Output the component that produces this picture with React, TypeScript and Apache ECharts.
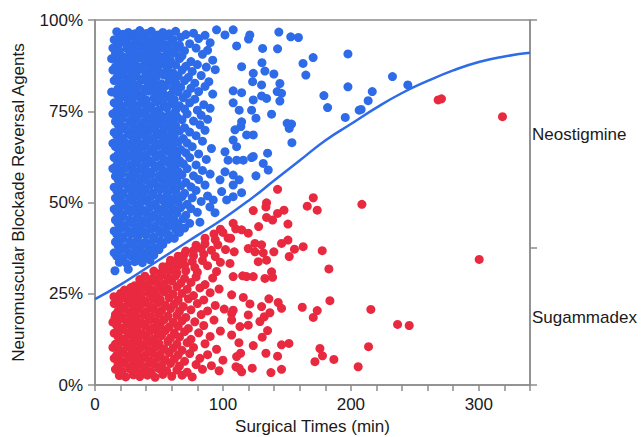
import React, { useEffect, useRef } from "react";
import * as echarts from "echarts";

const FONT = "'Liberation Sans', Arial, Helvetica, sans-serif";
const BLUE = "#2d6be9";
const RED = "#e8293f";
const AXIS = "#8c8c8c";

const xTitle = "Surgical Times (min)";
const yTitle = "Neuromuscular Blockade Reversal Agents";
const groupNames = ["Sugammadex", "Neostigmine"];
const groupLabelValues = [18.5, 68.5];
const groupBoundaryTicks = [0, 37.5, 100];

// fitted logistic curve
const curveX = [0, 20, 40, 60, 80, 100, 120, 140, 160, 180, 200, 220, 240, 260, 280, 300, 320, 340];
const curveY = [23.5, 27.5, 32, 36.5, 41, 45.5, 50.5, 56, 61.5, 67, 71.5, 76, 80, 83.3, 86.2, 88.5, 90, 91];

// Neostigmine points (dense block)
const neoDense = [
  [17,96.8],[22,96.1],[26,96.6],[31,96.2],[35,97.1],[40,96.3],[44,96.9],[49,95.9],[53,96.6],[58,96.2],[63,96.9],[71,96.0],[77,96.4],[86,95.8],
  [15,94.6],[20,95.3],[24,94.8],[29,95.5],[33,94.9],[38,95.4],[42,94.7],[47,95.2],[51,94.8],[56,95.6],[61,94.6],[67,95.3],[81,94.9],
  [18,93.1],[23,93.8],[27,93.3],[32,93.9],[36,93.2],[41,93.7],[45,93.0],[50,93.6],[55,93.3],[60,93.9],[66,93.1],[74,93.5],[90,93.8],
  [14,92.3],[19,91.6],[25,92.2],[30,91.8],[34,92.5],[39,91.7],[43,92.1],[48,91.5],[53,92.4],[58,91.9],[64,92.2],[70,91.6],[79,92.3],[88,91.7],
  [16,90.8],[21,90.1],[27,90.6],[32,90.2],[37,90.9],[41,90.3],[46,90.7],[51,90.0],[56,90.5],[62,90.9],[68,90.2],[84,90.6],
  [13,89.4],[18,88.6],[23,89.2],[29,88.8],[34,89.5],[39,88.7],[44,89.1],[49,88.5],[54,89.3],[59,88.9],[66,89.4],[75,88.6],[92,89.0],
  [16,87.2],[20,87.9],[26,87.3],[31,87.8],[36,87.1],[42,87.6],[47,87.4],[52,87.9],[57,87.2],[63,87.7],[71,87.3],[80,87.8],[87,87.1],
  [14,86.3],[19,85.7],[24,86.4],[29,85.9],[34,86.2],[40,85.6],[45,86.5],[50,85.8],[56,86.1],[61,85.5],[68,86.3],[76,85.9],[94,86.4],
  [17,84.2],[22,84.9],[27,84.3],[32,84.8],[38,84.1],[43,84.6],[48,84.4],[54,84.9],[59,84.2],[65,84.7],[73,84.3],[83,84.8],
  [15,83.4],[20,82.7],[25,83.2],[30,82.6],[36,83.5],[41,82.9],[46,83.1],[52,82.5],[58,83.3],[63,82.8],[70,83.4],[78,82.7],[89,83.1],
  [18,81.2],[23,81.9],[28,81.4],[34,81.8],[39,81.1],[44,81.7],[50,81.3],[55,81.9],[61,81.2],[67,81.6],[75,81.3],[86,81.8],
  [13,80.3],[17,79.7],[21,80.4],[26,79.8],[32,80.2],[37,79.6],[42,80.5],[48,79.9],[53,80.1],[59,79.5],[65,80.3],[72,79.8],[81,80.4],[92,79.7],
  [19,78.2],[24,78.9],[29,78.4],[35,78.8],[40,78.1],[46,78.6],[51,78.3],[57,78.9],[62,78.2],[69,78.7],[78,78.3],
  [15,77.3],[20,76.7],[26,77.4],[31,76.8],[37,77.2],[42,76.6],[48,77.5],[54,76.9],[60,77.1],[66,76.5],[74,77.3],[85,76.8],
  [17,75.2],[22,75.9],[28,75.3],[33,75.8],[39,75.1],[44,75.7],[50,75.4],[56,75.9],[63,75.2],[70,75.6],[80,75.3],[90,75.8],
  [14,74.3],[19,73.7],[24,74.4],[30,73.9],[35,74.2],[41,73.6],[47,74.5],[52,73.8],[58,74.1],[64,73.5],[72,74.3],[83,73.9],
  [16,72.2],[21,72.9],[27,72.3],[32,72.8],[38,72.1],[44,72.6],[49,72.4],[55,72.9],[61,72.2],[68,72.7],[77,72.3],[88,72.8],
  [18,71.3],[23,70.7],[29,71.4],[35,70.8],[40,71.2],[46,70.6],[51,71.5],[57,70.9],[63,71.1],[70,70.5],[82,71.3],
  [15,69.2],[20,69.9],[26,69.3],[31,69.8],[37,69.1],[42,69.7],[48,69.4],[54,69.9],[60,69.2],[66,69.6],[74,69.3],[86,69.8],
  [17,68.3],[22,67.7],[28,68.4],[33,67.8],[39,68.2],[45,67.6],[50,68.5],[56,67.9],[62,68.1],[69,67.5],[79,68.3],
  [14,66.2],[19,66.9],[24,66.3],[30,66.8],[36,66.1],[41,66.7],[47,66.4],[53,66.9],[59,66.2],[65,66.6],[72,66.3],[84,66.8],
  [16,65.3],[21,64.7],[27,65.4],[32,64.8],[38,65.2],[44,64.6],[49,65.5],[55,64.9],[61,65.1],[67,64.5],[76,65.3],[91,64.8],
  [18,63.2],[23,63.9],[29,63.3],[34,63.8],[40,63.1],[46,63.7],[52,63.4],[58,63.9],[64,63.2],[71,63.6],[81,63.3],
  [15,62.3],[20,61.7],[25,62.4],[31,61.8],[37,62.2],[42,61.6],[48,62.5],[54,61.9],[60,62.1],[66,61.5],[74,62.3],[87,61.8],
  [17,60.2],[22,60.9],[28,60.3],[33,60.8],[39,60.1],[45,60.7],[51,60.4],[57,60.9],[63,60.2],[69,60.6],[79,60.3],
  [14,59.3],[19,58.7],[24,59.4],[30,58.8],[36,59.2],[41,58.6],[47,59.5],[53,58.9],[59,59.1],[65,58.5],[72,59.3],[84,58.8],
  [16,57.2],[21,57.9],[27,57.3],[32,57.8],[38,57.1],[44,57.7],[50,57.4],[56,57.9],[62,57.2],[68,57.6],[77,57.3],[90,57.8],
  [18,56.3],[23,55.7],[29,56.4],[35,55.8],[40,56.2],[46,55.6],[52,56.5],[58,55.9],[64,56.1],[71,55.5],[81,56.3],
  [15,54.2],[20,54.9],[26,54.3],[31,54.8],[37,54.1],[43,54.7],[49,54.4],[55,54.9],[61,54.2],[67,54.6],[75,54.3],[86,54.8],
  [17,53.3],[22,52.7],[28,53.4],[34,52.8],[39,53.2],[45,52.6],[51,53.5],[57,52.9],[63,53.1],[70,52.5],[79,53.3],
  [16,51.2],[21,51.9],[27,51.3],[32,51.8],[38,51.1],[44,51.7],[50,51.4],[56,51.9],[62,51.2],[68,51.6],[76,51.3],[88,51.8],
  [18,50.3],[23,49.7],[29,50.4],[35,49.8],[41,50.2],[47,49.6],[53,50.5],[59,49.9],[65,50.1],[72,49.5],[83,50.3],
  [15,48.2],[20,48.9],[26,48.3],[32,48.8],[37,48.1],[43,48.7],[49,48.4],[55,48.9],[61,48.2],[67,48.6],[75,48.3],
  [17,47.3],[22,46.7],[28,47.4],[34,46.8],[40,47.2],[46,46.6],[52,47.5],[58,46.9],[64,47.1],[71,46.5],[80,47.3],
  [16,45.2],[21,45.9],[27,45.3],[33,45.8],[38,45.1],[44,45.7],[50,45.4],[56,45.9],[62,45.2],[69,45.6],
  [18,44.3],[23,43.7],[29,44.4],[35,43.8],[41,44.2],[47,43.6],[53,44.5],[59,43.9],[65,44.1],[74,44.3],[82,44.6],
  [15,42.2],[20,42.9],[26,42.3],[32,42.8],[38,42.1],[44,42.7],[50,42.4],[56,42.9],[63,42.6],[70,43.0],
  [17,41.3],[22,40.7],[28,41.4],[34,40.8],[40,41.2],[46,40.6],[52,41.5],[58,41.0],[66,41.8],
  [16,39.2],[21,39.9],[27,39.3],[33,39.8],[39,39.1],[45,39.7],[51,39.4],[57,39.9],[62,40.2],
  [18,38.3],[23,37.7],[29,38.4],[35,37.8],[41,38.2],[47,37.6],[53,38.5],
  [15,36.2],[20,36.9],[26,36.3],[32,36.8],[38,36.1],[44,36.7],[50,37.1],
  [17,35.3],[22,34.7],[28,35.4],[34,34.8],[40,35.2],[46,35.6],
  [19,33.6],[25,33.2],[31,33.8],[37,33.5],[43,34.3],
  [15.6,31.3],[26,31.7],
];

// Neostigmine points (sparse, longer surgeries)
const neoSparse = [
  [95,97.3],[101.6,95.9],[108,97.3],[121,95.9],[120,94.8],[143.7,96.7],[153,95.4],[159,95.2],[110.7,92.9],[131,92.2],
  [142.7,92.1],[130.5,88.3],[132.8,86],[162.6,88.1],[170.5,89.7],[164.8,84.9],[197.7,90.7],[197.7,81.7],[178.9,79.3],[181.8,76],
  [195.6,73.3],[206.5,75.3],[208,75.5],[213.5,77.9],[216.7,80.4],[232.5,84.5],[244.5,82.2],[139.8,85.2],[144.5,82.6],[142.4,80.4],
  [145.8,79.9],[144.5,77.8],[138,74.2],[150.2,71.7],[153.6,71.5],[151.8,70.3],[153.9,66.4],[134.9,63.5],[135.4,58.9],[125.8,57.3],
  [131.5,60.7],[123.7,62.6],[114.6,87.2],[123.7,85.4],[123.2,83.1],[130.2,82.2],[130.2,79.2],[134.1,78.5],[125.8,73.1],[122.4,75.3],
  [123.7,78.1],[114.6,80.1],[108,80.6],[112.7,75.3],[108,77.3],[123.7,68.5],[118.5,68.5],[114,70.8],[114.6,72.1],[122.4,62.3],
  [115.9,61.6],[110.7,65.3],[110.7,61.6],[108,57.5],[112.7,56.2],[114.6,52.7],[108,54.8],[102.9,50.7],[108,51.6],[97.7,56.2],
  [99,53],[92.4,50.7],[89.8,48.8],[93.8,47.2],[101.6,58.4],[104,61.6],[101.6,63.9],[108,67.1],[109.4,69.9],
];

// Sugammadex points (dense block)
const sugDense = [
  [19,2.6],[24,2.2],[30,2.8],[35,2.3],[41,2.7],[47,2.1],[53,2.9],[60,2.4],[68,2.7],[76,2.2],
  [16,4.3],[21,3.7],[27,4.4],[32,3.8],[38,4.2],[44,3.6],[50,4.5],[56,3.9],[64,4.1],[72,3.5],[84,4.3],[97,3.9],
  [18,5.2],[23,5.9],[29,5.3],[34,5.8],[40,5.1],[46,5.7],[52,5.4],[59,5.9],[66,5.2],[79,5.6],[91,5.3],
  [15,7.3],[20,6.7],[26,7.4],[31,6.8],[37,7.2],[43,6.6],[49,7.5],[55,6.9],[62,7.1],[70,6.5],[82,7.3],[100,6.8],
  [17,8.2],[22,8.9],[28,8.3],[33,8.8],[39,8.1],[45,8.7],[51,8.4],[58,8.9],[65,8.2],[74,8.6],[88,8.3],
  [14,10.3],[19,9.7],[25,10.4],[30,9.8],[36,10.2],[42,9.6],[48,10.5],[54,9.9],[61,10.1],[68,9.5],[77,10.3],[95,9.8],
  [16,11.2],[21,11.9],[27,11.3],[32,11.8],[38,11.1],[44,11.7],[50,11.4],[57,11.9],[64,11.2],[72,11.6],[86,11.3],
  [18,13.3],[23,12.7],[29,13.4],[34,12.8],[40,13.2],[46,12.6],[52,13.5],[59,12.9],[66,13.1],[75,12.5],[90,13.3],
  [15,14.2],[20,14.9],[26,14.3],[31,14.8],[37,14.1],[43,14.7],[49,14.4],[55,14.9],[62,14.2],[70,14.6],[81,14.3],[98,14.8],
  [17,16.3],[22,15.7],[28,16.4],[33,15.8],[39,16.2],[45,15.6],[51,16.5],[58,15.9],[65,16.1],[73,15.5],[85,16.3],
  [14,17.2],[19,17.9],[25,17.3],[30,17.8],[36,17.1],[42,17.7],[48,17.4],[54,17.9],[61,17.2],[68,17.6],[78,17.3],[93,17.8],
  [16,19.3],[21,18.7],[27,19.4],[32,18.8],[38,19.2],[44,18.6],[50,19.5],[57,18.9],[64,19.1],[71,18.5],[83,19.3],
  [18,20.2],[23,20.9],[29,20.3],[34,20.8],[40,20.1],[46,20.7],[52,20.4],[59,20.9],[66,20.2],[75,20.6],[88,20.3],[101,20.8],
  [15,22.3],[20,21.7],[26,22.4],[31,21.8],[37,22.2],[43,21.6],[49,22.5],[55,21.9],[62,22.1],[69,21.5],[80,22.3],[94,21.8],
  [17,23.2],[22,23.9],[28,23.3],[33,23.8],[39,23.1],[45,23.7],[51,23.4],[58,23.9],[65,23.2],[73,23.6],[85,23.3],
  [20,25.1],[25,24.7],[30,25.4],[36,24.8],[42,25.2],[48,24.6],[54,25.5],[61,24.9],[68,25.1],[77,24.5],[90,25.3],
  [23,26.0],[28,26.7],[33,26.3],[39,26.8],[45,26.1],[51,26.7],[57,26.4],[64,26.9],[72,26.2],[82,26.6],[97,26.3],
  [31,27.2],[36,28.2],[42,27.8],[48,28.2],[54,27.6],[60,28.5],[67,27.9],[75,28.1],[86,27.5],
  [35,28.9],[39,29.8],[45,29.2],[51,29.7],[57,29.4],[63,29.9],[70,29.2],[79,29.6],[92,29.3],
  [46,31.2],[52,30.8],[58,31.4],[64,30.7],[71,31.3],[80,30.9],[95,31.1],
  [53,32.4],[58,32.9],[64,32.3],[70,32.8],[78,32.2],[88,32.7],
  [59,34.2],[64,33.7],[69,34.4],[76,33.8],[84,34.1],[98,33.6],
  [65,35.3],[70,35.9],[77,35.4],[85,35.8],[94,35.2],
  [71,36.7],[77,36.8],[83,37.4],[91,36.9],[102,37.1],
  [79,38.3],[86,38.7],[96,38.4],
  [86,40.2],[94,39.8],[104,40.3],
  [93,41.4],[100,41.8],
  [98,42.7],[110,42.8],
  [14.8,24.2],[15.6,18.4],[18,6],
];

// Sugammadex points (sparse, longer surgeries)
const sugSparse = [
  [142.7,53.6],[170.6,51.3],[165.9,49],[173.7,47.9],[208.6,49.5],[134.1,49.9],[133.6,48.8],[123.7,47.8],[142.7,47],[147.7,47.9],
  [134.1,45.9],[138.8,45.2],[150.8,44.1],[127.9,43.4],[300.3,34.4],[177.6,36.8],[162.7,37.9],[155.9,37.2],[150.8,39.7],[145.8,38.8],
  [151.8,35.2],[139.8,36.5],[131.5,36.2],[182.8,31.8],[138,31],[132.8,29.2],[138.8,29.5],[183.6,23.1],[162,21.3],[173.7,20.4],
  [170.6,18.5],[215.6,20.7],[236.5,16.6],[245.6,16.3],[213.8,10.5],[175.8,10],[177.8,8],[171.9,6.4],[186.7,7],[205.7,5],
  [151.6,11.4],[145.8,11],[142.7,7.9],[133.6,8.7],[145.8,4.3],[137.5,3.4],[122.9,4.6],[123.7,10.8],[130.7,13.1],[134.9,14.9],
  [128.9,17.4],[132.3,18.7],[136.7,19.8],[145.8,21],[143.2,22.6],[135.9,23.6],[130.2,21.5],[121.1,22.2],[115.9,24],[119.8,19.2],
  [119.8,16.4],[113.3,16],[113.8,8.7],[112.5,11.6],[114.6,3.6],[110.2,5],[123.7,29.7],[118.5,29.7],[115.4,29.9],[106.8,24.7],
  [125,38.8],[119.8,37.4],[125,36.5],[130.2,38.4],[127.6,33.8],[134.1,34.2],[114.6,42.5],[119.8,41.6],[108,44.3],[106,40.2],
  [108.8,36.5],[105.5,33.3],[108,29.7],[106.8,19.6],[108,20.5],[106.8,17.8],[106.8,13.7],[110.7,7.8],[112.7,4.6],
  [268.2,78.1],[270.8,78.4],[318.5,73.5],
];

const textStyle = { fontFamily: FONT, fontSize: 17, color: "#1a1a1a" };

export default function App() {
  const ref = useRef<HTMLDivElement>(null);
  useEffect(() => {
    if (!ref.current) return;
    const chart = echarts.init(ref.current, undefined, { renderer: "svg" });
    const option: any = {
      animation: false,
      grid: {
        left: 95, right: 112, top: 20, bottom: 52,
        outerBoundsMode: "none", containLabel: false,
        show: true, borderColor: AXIS, borderWidth: 1.5, backgroundColor: "transparent",
      },
      xAxis: {
        type: "value",
        min: 0,
        max: 340,
        interval: 20,
        axisLine: { lineStyle: { color: AXIS, width: 1.5 } },
        axisTick: { inside: false, length: 6, lineStyle: { color: AXIS, width: 1.5 } },
        splitLine: { show: false },
        axisLabel: { ...textStyle, margin: 11, formatter: (v: number) => (v % 100 === 0 ? String(v) : "") },
        name: xTitle,
        nameLocation: "middle",
        nameGap: 33,
        nameTextStyle: textStyle,
      },
      yAxis: [
        {
          type: "value",
          min: 0,
          max: 100,
          interval: 25,
          axisLine: { show: true, lineStyle: { color: AXIS, width: 1.5 } },
          axisTick: { show: true, inside: false, length: 7, lineStyle: { color: AXIS, width: 1.5 } },
          splitLine: { show: false },
          axisLabel: { ...textStyle, margin: 12, formatter: "{value}%" },
          name: yTitle,
          nameLocation: "middle",
          nameRotate: 90,
          nameGap: 68,
          nameTextStyle: textStyle,
        },
        {
          type: "value",
          position: "right",
          min: 0,
          max: 100,
          axisLine: { show: true, lineStyle: { color: AXIS, width: 1.5 } },
          axisTick: { show: true, inside: false, length: 7, customValues: groupBoundaryTicks, lineStyle: { color: AXIS, width: 1.5 } },
          splitLine: { show: false },
          axisLabel: {
            ...textStyle,
            margin: 2,
            customValues: groupLabelValues,
            formatter: (v: number) => (v > 50 ? groupNames[1] : groupNames[0]),
          },
        },
      ],
      series: [
        {
          name: groupNames[1],
          type: "scatter",
          data: [...neoDense, ...neoSparse],
          symbolSize: 9,
          itemStyle: { color: BLUE, opacity: 1 },
          z: 2,
        },
        {
          name: groupNames[0],
          type: "scatter",
          data: [...sugDense, ...sugSparse],
          symbolSize: 9,
          itemStyle: { color: RED, opacity: 1 },
          z: 2,
        },
        {
          type: "line",
          data: curveX.map((x, i) => [x, curveY[i]]),
          smooth: true,
          showSymbol: false,
          symbol: "none",
          lineStyle: { color: BLUE, width: 2.5 },
          z: 3,
        },
      ],
    };
    chart.setOption(option);
    return () => chart.dispose();
  }, []);
  return <div ref={ref} style={{ position: "absolute", left: 0, top: 0, width: 642, height: 437 }} />;
}
